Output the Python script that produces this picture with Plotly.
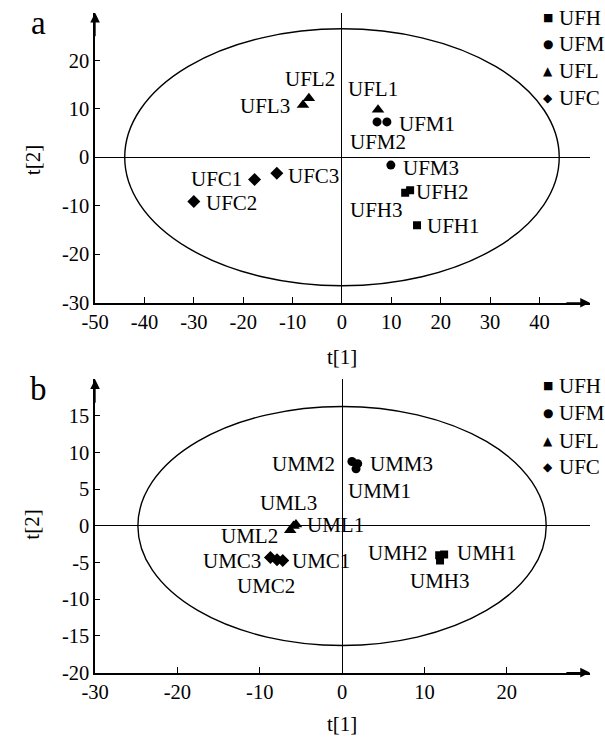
import plotly.graph_objects as go

# ---------------- data ----------------
groups = ["UFH", "UFM", "UFL", "UFC"]

# panel a
a_H_x = [15.2, 13.8, 12.8]
a_H_y = [-14.0, -6.8, -7.3]
a_H_lab = ["UFH1", "UFH2", "UFH3"]
a_M_x = [9.1, 7.1, 9.9]
a_M_y = [7.3, 7.3, -1.6]
a_M_lab = ["UFM1", "UFM2", "UFM3"]
a_L_x = [7.3, -6.7, -7.9]
a_L_y = [9.8, 12.2, 10.8]
a_L_lab = ["UFL1", "UFL2", "UFL3"]
a_C_x = [-17.7, -30.0, -13.2]
a_C_y = [-4.6, -9.1, -3.3]
a_C_lab = ["UFC1", "UFC2", "UFC3"]

# panel b
b_H_x = [12.4, 11.8, 11.9]
b_H_y = [-3.9, -4.0, -4.7]
b_H_lab = ["UMH1", "UMH2", "UMH3"]
b_M_x = [1.7, 1.2, 1.9]
b_M_y = [7.8, 8.8, 8.5]
b_M_lab = ["UMM1", "UMM2", "UMM3"]
b_L_x = [-5.6, -6.3, -5.9]
b_L_y = [0.2, -0.6, 0.0]
b_L_lab = ["UML1", "UML2", "UML3"]
b_C_x = [-7.2, -7.9, -8.7]
b_C_y = [-4.7, -4.6, -4.3]
b_C_lab = ["UMC1", "UMC2", "UMC3"]

# Hotelling ellipse semi-axes
a_ellipse = (44.0, 26.5)
b_ellipse = (24.8, 16.3)

# tick labels
a_xticks = [-50, -40, -30, -20, -10, 0, 10, 20, 30, 40]
a_yticks = [-30, -20, -10, 0, 10, 20]
b_xticks = [-30, -20, -10, 0, 10, 20]
b_yticks = [-20, -15, -10, -5, 0, 5, 10, 15]

# ---------------- styles ----------------
FONT = "Liberation Serif"
W, H = 605, 745
sym = {"UFH": ("square", 8), "UFM": ("circle", 9), "UFL": ("triangle-up", 11), "UFC": ("diamond", 10)}
glyph = {"UFH": "■", "UFM": "●", "UFL": "▲", "UFC": "◆"}
glyph_size = {"UFH": 11, "UFM": 12, "UFL": 12, "UFC": 12}

# label pixel offsets (dx right, dy down)
a_off = {
    "UFH": [(36.5, 0.7), (32, 1.7), (-28.6, 17.3)],
    "UFM": [(40.5, 1.7), (1.1, 20), (40.5, 3)],
    "UFL": [(-5, -21), (1.1, -19.3), (-38, 0.6)],
    "UFC": [(-38.5, -1), (38, 2), (37, 2.3)],
}
b_off = {
    "UFH": [(42.5, -1.3), (-41.5, -2.3), (-0.4, 20.7)],
    "UFM": [(23, 22.6), (-48, 2.3), (44, 0.6)],
    "UFL": [(39.5, 0), (-41, 5.5), (-4.6, -22.5)],
    "UFC": [(38, 0.7), (-11.2, 26.5), (-38.5, 4.0)],
}

panels = [
    dict(xa="x", ya="y",
         data={"UFH": (a_H_x, a_H_y, a_H_lab), "UFM": (a_M_x, a_M_y, a_M_lab),
               "UFL": (a_L_x, a_L_y, a_L_lab), "UFC": (a_C_x, a_C_y, a_C_lab)},
         off=a_off, ell=a_ellipse, xr=[-50, 50.2], yr=[-30, 29.8],
         xt=a_xticks, yt=a_yticks, px_y=(13, 307.3), letter="a",
         letter_y=23, ytitle_y=163, xtitle_y=362, legend_y=[18, 45, 72, 99]),
    dict(xa="x2", ya="y2",
         data={"UFH": (b_H_x, b_H_y, b_H_lab), "UFM": (b_M_x, b_M_y, b_M_lab),
               "UFL": (b_L_x, b_L_y, b_L_lab), "UFC": (b_C_x, b_C_y, b_C_lab)},
         off=b_off, ell=b_ellipse, xr=[-30, 30.1], yr=[-20, 20.0],
         xt=b_xticks, yt=b_yticks, px_y=(385, 682.7), letter="b",
         letter_y=395, ytitle_y=533, xtitle_y=735, legend_y=[391.7, 419.3, 447.3, 474.3]),
]

fig = go.Figure()
annotations = []
shapes = []
layout = {}

x_left_px, x_right_px = 83.0, 589.5

for i, p in enumerate(panels):
    for g in groups:
        xs, ys, labs = p["data"][g]
        fig.add_trace(go.Scatter(
            x=xs, y=ys, mode="markers", xaxis=p["xa"], yaxis=p["ya"],
            marker=dict(symbol=sym[g][0], size=sym[g][1], color="black", line=dict(width=0)),
            showlegend=False, name=g))
        for (xv, yv, lab, (dx, dy)) in zip(xs, ys, labs, p["off"][g]):
            annotations.append(dict(x=xv, y=yv, xref=p["xa"], yref=p["ya"], text=lab,
                                    showarrow=False, xshift=dx, yshift=-dy,
                                    font=dict(family=FONT, size=21, color="black"),
                                    xanchor="center", yanchor="middle"))
    a, b = p["ell"]
    shapes.append(dict(type="circle", xref=p["xa"], yref=p["ya"], x0=-a, x1=a, y0=-b, y1=b,
                       line=dict(color="black", width=1.4), layer="below"))
    top_px, bot_px = p["px_y"]
    suffix = "" if i == 0 else "2"
    layout["xaxis" + suffix] = dict(
        domain=[x_left_px / W, x_right_px / W], range=p["xr"], anchor="y" + suffix,
        showgrid=False, zeroline=True, zerolinecolor="black", zerolinewidth=1.3,
        showline=True, linecolor="black", linewidth=1.5,
        ticks="inside", ticklen=6, tickwidth=1, tickcolor="black",
        tickvals=p["xt"], ticktext=[str(v) for v in p["xt"]],
        tickfont=dict(family=FONT, size=20.5, color="black"), fixedrange=True)
    layout["yaxis" + suffix] = dict(
        domain=[1 - bot_px / H, 1 - top_px / H], range=p["yr"], anchor="x" + suffix,
        showgrid=False, zeroline=True, zerolinecolor="black", zerolinewidth=1.3,
        showline=True, linecolor="black", linewidth=1.5,
        ticks="inside", ticklen=5, tickwidth=1, tickcolor="black",
        tickvals=p["yt"], ticktext=[str(v) for v in p["yt"]],
        tickfont=dict(family=FONT, size=20.5, color="black"), fixedrange=True)
    # axis arrows
    annotations.append(dict(x=p["xr"][1], y=p["yr"][0], xref=p["xa"], yref=p["ya"],
                            ax=-25, ay=0, showarrow=True, arrowhead=2, arrowsize=1.6,
                            arrowwidth=1.2, arrowcolor="black", text=""))
    annotations.append(dict(x=p["xr"][0], y=p["yr"][1], xref=p["xa"], yref=p["ya"],
                            ax=0, ay=25, showarrow=True, arrowhead=2, arrowsize=1.6,
                            arrowwidth=1.2, arrowcolor="black", text=""))
    # panel letter
    annotations.append(dict(x=25 / W, y=1 - p["letter_y"] / H, xref="paper", yref="paper",
                            text=p["letter"], showarrow=False,
                            font=dict(family=FONT, size=33, color="black"),
                            xanchor="center", yanchor="middle"))
    # axis titles
    annotations.append(dict(x=19 / W, y=1 - p["ytitle_y"] / H, xref="paper", yref="paper",
                            text="t[2]", showarrow=False, textangle=-90,
                            font=dict(family=FONT, size=21, color="black"),
                            xanchor="center", yanchor="middle"))
    annotations.append(dict(x=336 / W, y=1 - p["xtitle_y"] / H, xref="paper", yref="paper",
                            text="t[1]", showarrow=False,
                            font=dict(family=FONT, size=21, color="black"),
                            xanchor="center", yanchor="middle"))
    # legend
    for g, ly in zip(groups, p["legend_y"]):
        annotations.append(dict(x=547 / W, y=1 - ly / H, xref="paper", yref="paper",
                                text=glyph[g], showarrow=False,
                                font=dict(family="DejaVu Sans", size=glyph_size[g], color="black"),
                                xanchor="center", yanchor="middle"))
        annotations.append(dict(x=556 / W, y=1 - ly / H, xref="paper", yref="paper",
                                text=g, showarrow=False,
                                font=dict(family=FONT, size=21, color="black"),
                                xanchor="left", yanchor="middle"))

fig.update_layout(
    width=W, height=H, margin=dict(l=0, r=0, t=0, b=0),
    paper_bgcolor="white", plot_bgcolor="white",
    annotations=annotations, shapes=shapes, **layout)

fig.write_html("out.html")
